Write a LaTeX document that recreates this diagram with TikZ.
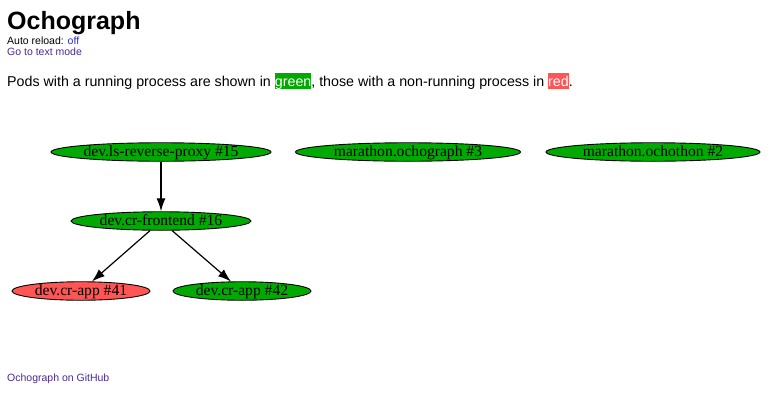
\documentclass[tikz,border=0pt]{standalone}
\usepackage{fontspec}
\setmainfont{Liberation Serif}
\newfontfamily\arialf{Liberation Sans}
\usetikzlibrary{shapes.geometric,arrows.meta}
\definecolor{podgreen}{HTML}{00AA00}
\definecolor{podred}{HTML}{FF5555}
\definecolor{linkblue}{HTML}{2A2AC8}
\definecolor{linkpurple}{HTML}{4B2A9A}
\newcommand{\hlbox}[2]{{\setlength{\fboxsep}{0pt}\colorbox{#1}{\rule[-0.212em]{0pt}{1.117em}\textcolor{white}{#2}}}}
\tikzset{
  pod/.style={ellipse, draw=black, fill=podgreen, line width=0.9pt, inner sep=0pt,
    minimum height=18.5pt, text height=9pt, text depth=0pt,
    font=\fontsize{15.6}{15.6}\selectfont},
  deadpod/.style={pod, fill=podred},
  edge/.style={-{Latex[length=13pt,width=9pt]}, line width=1.2pt},
  txt/.style={anchor=base west, inner sep=0pt, font=\arialf\fontsize{14.25}{16}\selectfont},
  small/.style={anchor=base west, inner sep=0pt, font=\arialf\fontsize{10.5}{12}\selectfont},
}
\begin{document}
\begin{tikzpicture}[x=1pt,y=-1pt]
\useasboundingbox (0,0) rectangle (771,408);
\fill[white] (0,0) rectangle (771,408);
\node[anchor=base west, inner sep=0pt, font=\arialf\bfseries\fontsize{25}{26}\selectfont] (title) at (7,29) {Ochograph};
\node[small] (reload) at (7,44) {Auto reload: \textcolor{linkblue}{off}};
\node[small, text=linkpurple] (textmode) at (7,55) {Go to text mode};
\node[txt] (para) at (7,86) {Pods with a running process are shown in \hlbox{podgreen}{green}, those with a non-running process in \hlbox{podred}{red}.};
\node[pod, minimum width=220pt] (proxy) at (161,152) {dev.ls-reverse-proxy \#15};
\node[pod, minimum width=225pt] (ochograph) at (408,152) {marathon.ochograph \#3};
\node[pod, minimum width=214pt] (ochothon) at (653,152) {marathon.ochothon \#2};
\node[pod, minimum width=180pt] (frontend) at (161,221) {dev.cr-frontend \#16};
\node[deadpod, minimum width=138pt] (app41) at (81,291) {dev.cr-app \#41};
\node[pod, minimum width=138pt] (app42) at (242,291) {dev.cr-app \#42};
\draw[edge] (proxy) -- (frontend);
\draw[edge] (frontend) -- (app41);
\draw[edge] (frontend) -- (app42);
\node[small, text=linkpurple] (github) at (7,381) {Ochograph on GitHub};
\end{tikzpicture}
\end{document}
